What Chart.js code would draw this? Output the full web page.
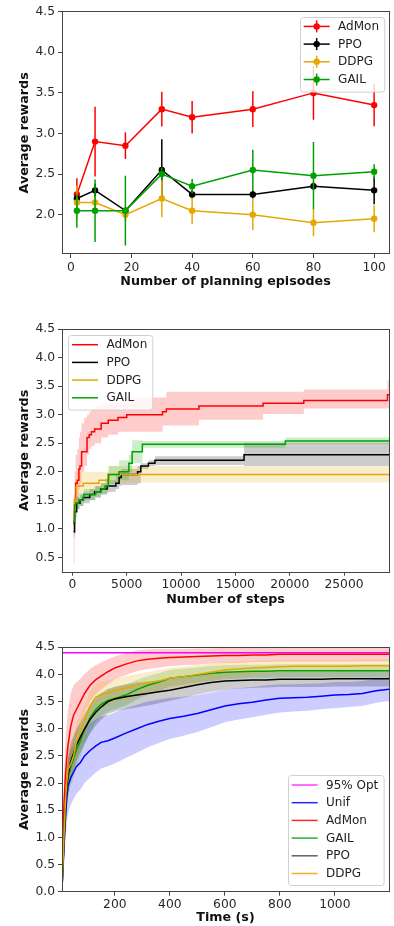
<!DOCTYPE html>
<html>
<head>
<meta charset="utf-8">
<script src="https://cdn.jsdelivr.net/npm/chart.js@4.4.0/dist/chart.umd.min.js"></script>
<style>
  html, body { margin: 0; padding: 0; background: #fff; }
  body { width: 394px; height: 926px; position: relative; overflow: hidden; }
  canvas { position: absolute; left: 0; }
</style>
</head>
<body>
<canvas id="episodes-chart" width="394" height="300" style="top:0"></canvas>
<canvas id="steps-chart" width="394" height="300" style="top:310px"></canvas>
<canvas id="time-chart" width="394" height="306" style="top:620px"></canvas>
<script>
// ─── Data ─────────────────────────────────────────────────────────────────────
const METHODS = ['AdMon', 'PPO', 'DDPG', 'GAIL'];

// Panel 1: reward vs number of planning episodes (mean ± error)
const EPISODES = [2, 8, 18, 30, 40, 60, 80, 100];
const EP_ADMON = [2.25, 2.9, 2.85, 3.3, 3.2, 3.3, 3.5, 3.35];
const EP_ADMON_ERR = [0.2, 0.43, 0.165, 0.215, 0.2, 0.22, 0.33, 0.26];
const EP_PPO = [2.2, 2.3, 2.05, 2.55, 2.25, 2.25, 2.35, 2.3];
const EP_PPO_ERR = [0.05, 0.08, 0.03, 0.38, 0.05, 0.05, 0.05, 0.17];
const EP_DDPG = [2.15, 2.15, 2.0, 2.2, 2.05, 2.0, 1.9, 1.95];
const EP_DDPG_ERR = [0.21, 0.08, 0.08, 0.23, 0.16, 0.19, 0.165, 0.165];
const EP_GAIL = [2.05, 2.05, 2.05, 2.5, 2.35, 2.55, 2.48, 2.53];
const EP_GAIL_ERR = [0.21, 0.385, 0.43, 0.08, 0.09, 0.25, 0.415, 0.09];
const EP_X_TICKS = [0, 20, 40, 60, 80, 100];
const EP_Y_TICKS = [2.0, 2.5, 3.0, 3.5, 4.0, 4.5];

// Panel 2: best reward so far vs number of steps (step curves, band = lo..hi)
const ST_ADMON_X = [100, 200, 300, 450, 600, 700, 850, 1100, 1350, 1550, 1750, 2050, 2650, 3300, 4200, 5000, 8300, 8650, 11650, 17550, 21300, 29000, 29140];
const ST_ADMON = [1.1, 1.5, 1.8, 1.85, 2.05, 2.1, 2.35, 2.35, 2.6, 2.65, 2.7, 2.75, 2.85, 2.9, 2.95, 3.0, 3.05, 3.1, 3.15, 3.2, 3.25, 3.35, 3.35];
const ST_ADMON_HI = [1.6, 2.0, 2.3, 2.4, 2.6, 2.7, 2.85, 2.95, 3.0, 3.05, 3.1, 3.15, 3.2, 3.2, 3.2, 3.3, 3.3, 3.4, 3.4, 3.4, 3.44, 3.6, 3.6];
const ST_ADMON_LO = [0.4, 0.9, 1.4, 1.5, 1.7, 1.8, 2.0, 2.1, 2.3, 2.4, 2.45, 2.5, 2.6, 2.65, 2.7, 2.7, 2.81, 2.81, 2.91, 3.01, 3.11, 3.11, 3.11];
const ST_PPO_X = [100, 200, 400, 700, 1000, 1600, 2050, 2600, 3200, 4000, 4300, 4500, 6000, 6300, 7000, 7600, 15800, 29140];
const ST_PPO = [0.95, 1.3, 1.45, 1.5, 1.55, 1.6, 1.65, 1.7, 1.75, 1.8, 1.9, 1.95, 2.0, 2.1, 2.15, 2.2, 2.3, 2.3];
const ST_PPO_HI = [1.05, 1.4, 1.55, 1.6, 1.65, 1.7, 1.75, 1.8, 1.85, 1.95, 2.0, 2.05, 2.1, 2.15, 2.2, 2.27, 2.51, 2.51];
const ST_PPO_LO = [0.85, 1.2, 1.35, 1.4, 1.45, 1.5, 1.55, 1.6, 1.65, 1.7, 1.75, 1.77, 1.8, 2.05, 2.1, 2.12, 2.1, 2.1];
const ST_DDPG_X = [100, 200, 350, 1000, 2450, 3400, 29140];
const ST_DDPG = [1.25, 1.5, 1.75, 1.8, 1.85, 1.95, 1.95];
const ST_DDPG_HI = [1.4, 1.7, 2.0, 2.0, 2.0, 2.1, 2.1];
const ST_DDPG_LO = [1.1, 1.3, 1.6, 1.65, 1.7, 1.81, 1.81];
const ST_GAIL_X = [60, 200, 300, 580, 1040, 2150, 2650, 3000, 3300, 4300, 5200, 5500, 6440, 19600, 29140];
const ST_GAIL = [1.12, 1.42, 1.45, 1.5, 1.6, 1.65, 1.7, 1.75, 1.95, 2.0, 2.15, 2.35, 2.48, 2.54, 2.54];
const ST_GAIL_HI = [1.2, 1.55, 1.58, 1.62, 1.7, 1.75, 1.8, 1.88, 2.1, 2.2, 2.3, 2.55, 2.54, 2.6, 2.6];
const ST_GAIL_LO = [1.05, 1.3, 1.35, 1.4, 1.5, 1.55, 1.6, 1.62, 1.78, 1.85, 2.0, 2.15, 2.42, 2.48, 2.48];
const ST_X_TICKS = [0, 5000, 10000, 15000, 20000, 25000];
const ST_Y_TICKS = [0.5, 1.0, 1.5, 2.0, 2.5, 3.0, 3.5, 4.0, 4.5];

// Panel 3: reward vs wall-clock time (mean ± sd)
const TIME = [8, 15, 20, 25, 30, 40, 50, 60, 75, 90, 110, 130, 150, 175, 200, 240, 280, 320, 360, 400, 450, 500, 550, 600, 650, 700, 750, 800, 850, 900, 950, 1000, 1050, 1100, 1150, 1197];
const OPT_95 = 4.4;
const T_UNIF = [0.05, 0.8, 1.3, 1.7, 1.95, 2.1, 2.2, 2.3, 2.38, 2.5, 2.6, 2.68, 2.75, 2.78, 2.83, 2.92, 3.0, 3.08, 3.14, 3.19, 3.23, 3.28, 3.35, 3.42, 3.46, 3.49, 3.53, 3.56, 3.57, 3.58, 3.6, 3.62, 3.63, 3.65, 3.7, 3.73];
const T_UNIF_SD = [0.05, 0.35, 0.4, 0.45, 0.5, 0.5, 0.5, 0.5, 0.5, 0.5, 0.5, 0.49, 0.48, 0.47, 0.47, 0.46, 0.44, 0.42, 0.4, 0.38, 0.36, 0.34, 0.32, 0.3, 0.29, 0.28, 0.27, 0.26, 0.25, 0.25, 0.24, 0.24, 0.23, 0.23, 0.22, 0.22];
const T_ADMON = [0.05, 1.6, 2.1, 2.45, 2.7, 3.05, 3.25, 3.35, 3.5, 3.65, 3.8, 3.9, 3.97, 4.05, 4.12, 4.19, 4.25, 4.28, 4.3, 4.31, 4.32, 4.33, 4.34, 4.35, 4.35, 4.36, 4.36, 4.37, 4.37, 4.37, 4.37, 4.37, 4.37, 4.37, 4.37, 4.37];
const T_ADMON_SD = [0.05, 0.5, 0.6, 0.65, 0.65, 0.6, 0.55, 0.5, 0.42, 0.36, 0.3, 0.27, 0.25, 0.23, 0.21, 0.2, 0.19, 0.18, 0.17, 0.16, 0.15, 0.15, 0.14, 0.14, 0.14, 0.13, 0.13, 0.13, 0.13, 0.13, 0.13, 0.13, 0.13, 0.13, 0.13, 0.13];
const T_GAIL = [0.05, 0.9, 1.5, 1.9, 2.1, 2.3, 2.45, 2.6, 2.78, 2.98, 3.2, 3.35, 3.45, 3.52, 3.56, 3.62, 3.72, 3.8, 3.86, 3.93, 3.96, 3.99, 4.02, 4.04, 4.05, 4.06, 4.06, 4.07, 4.07, 4.07, 4.07, 4.07, 4.07, 4.07, 4.07, 4.07];
const T_GAIL_SD = [0.05, 0.3, 0.35, 0.35, 0.35, 0.35, 0.35, 0.33, 0.3, 0.28, 0.26, 0.24, 0.22, 0.21, 0.2, 0.19, 0.18, 0.17, 0.16, 0.15, 0.15, 0.14, 0.14, 0.13, 0.13, 0.12, 0.12, 0.12, 0.12, 0.12, 0.12, 0.12, 0.12, 0.12, 0.12, 0.12];
const T_PPO = [0.05, 0.9, 1.5, 1.9, 2.15, 2.4, 2.55, 2.7, 2.85, 3.0, 3.17, 3.3, 3.4, 3.5, 3.55, 3.59, 3.62, 3.65, 3.68, 3.71, 3.76, 3.81, 3.85, 3.88, 3.89, 3.9, 3.9, 3.91, 3.91, 3.91, 3.91, 3.92, 3.92, 3.92, 3.92, 3.92];
const T_PPO_SD = [0.05, 0.3, 0.35, 0.35, 0.35, 0.35, 0.33, 0.3, 0.28, 0.27, 0.26, 0.25, 0.24, 0.23, 0.23, 0.23, 0.23, 0.22, 0.21, 0.2, 0.19, 0.18, 0.17, 0.16, 0.15, 0.15, 0.14, 0.14, 0.14, 0.14, 0.14, 0.14, 0.14, 0.14, 0.14, 0.14];
const T_DDPG = [0.05, 1.0, 1.6, 2.0, 2.25, 2.35, 2.5, 2.75, 2.95, 3.15, 3.42, 3.58, 3.63, 3.66, 3.7, 3.75, 3.8, 3.84, 3.88, 3.93, 3.96, 4.0, 4.04, 4.08, 4.1, 4.12, 4.13, 4.14, 4.15, 4.15, 4.15, 4.15, 4.15, 4.16, 4.16, 4.16];
const T_DDPG_SD = [0.05, 0.3, 0.35, 0.35, 0.35, 0.35, 0.35, 0.35, 0.33, 0.3, 0.27, 0.25, 0.24, 0.23, 0.22, 0.22, 0.21, 0.2, 0.2, 0.19, 0.18, 0.17, 0.16, 0.15, 0.14, 0.13, 0.13, 0.12, 0.12, 0.12, 0.12, 0.12, 0.12, 0.12, 0.12, 0.12];
const T_X_TICKS = [200, 400, 600, 800, 1000];
const T_Y_TICKS = [0.0, 0.5, 1.0, 1.5, 2.0, 2.5, 3.0, 3.5, 4.0, 4.5];

// ─── Styling ──────────────────────────────────────────────────────────────────
const FONT = '"DejaVu Sans", sans-serif';
const COLORS = {
  AdMon: '#ff0000', PPO: '#000000', DDPG: '#e6a700', GAIL: '#00a000',
  Unif: '#0000ff', Opt: '#ff00ff',
};
const BANDS = {
  AdMon: 'rgba(255, 0, 0, 0.2)', PPO: 'rgba(0, 0, 0, 0.2)', DDPG: 'rgba(230, 167, 0, 0.2)',
  GAIL: 'rgba(0, 160, 0, 0.2)', Unif: 'rgba(0, 0, 255, 0.2)',
};

Chart.defaults.font.family = FONT;
Chart.defaults.animation = false;

const pts = (xs, ys) => xs.map((x, i) => ({ x, y: ys[i] }));
const errorSegments = (xs, ys, err) =>
  xs.flatMap((x, i) => [{ x, y: ys[i] - err[i] }, { x, y: ys[i] + err[i] }, { x, y: null }]);
const offset = (ys, sd, sign) => ys.map((y, i) => y + sign * sd[i]);

// Matplotlib-like axes frame
const frame = {
  id: 'frame',
  afterDatasetsDraw(chart) {
    const { ctx, chartArea: a } = chart;
    ctx.save();
    ctx.strokeStyle = '#444';
    ctx.lineWidth = 1;
    ctx.strokeRect(Math.floor(a.left) + 0.5, Math.floor(a.top) + 0.5,
      Math.round(a.width), Math.round(a.height));
    ctx.restore();
  },
};

// Boxed legend placed in a corner of the axes
const boxLegend = {
  id: 'boxLegend',
  afterDraw(chart, args, opts) {
    const { ctx, chartArea: a } = chart;
    const rowH = 17.7;
    ctx.save();
    ctx.font = '12px ' + FONT;
    const textW = Math.max(...opts.items.map(it => ctx.measureText(it.label).width));
    const w = 38.4 + textW + 5;
    const h = opts.items.length * rowH + 3.8;
    const x = opts.corner.includes('right') ? a.right - opts.dx - w : a.left + opts.dx;
    const y = opts.corner.includes('bottom') ? a.bottom - opts.dy - h : a.top + opts.dy;

    ctx.fillStyle = 'rgba(255, 255, 255, 0.8)';
    ctx.strokeStyle = '#d0d0d0';
    ctx.lineWidth = 1;
    ctx.beginPath();
    if (ctx.roundRect) ctx.roundRect(Math.round(x) + 0.5, Math.round(y) + 0.5, w, h, 3);
    else ctx.rect(Math.round(x) + 0.5, Math.round(y) + 0.5, w, h);
    ctx.fill();
    ctx.stroke();

    opts.items.forEach((it, i) => {
      const cy = y + 9.7 + i * rowH;
      ctx.strokeStyle = it.color;
      ctx.lineWidth = 1.5;
      ctx.globalAlpha = it.alpha || 1;
      ctx.beginPath();
      ctx.moveTo(x + 4, cy);
      ctx.lineTo(x + 30, cy);
      ctx.stroke();
      if (it.marker) {
        ctx.beginPath();
        ctx.moveTo(x + 17, cy - 6);
        ctx.lineTo(x + 17, cy + 6);
        ctx.stroke();
        ctx.fillStyle = it.color;
        ctx.beginPath();
        ctx.arc(x + 17, cy, 3.2, 0, Math.PI * 2);
        ctx.fill();
      }
      ctx.globalAlpha = 1;
      ctx.fillStyle = '#222';
      ctx.textBaseline = 'middle';
      ctx.textAlign = 'left';
      ctx.fillText(it.label, x + 38.4, cy + 0.5);
    });
    ctx.restore();
  },
};

function xScale(min, max, ticks, title, height, titlePad) {
  return {
    type: 'linear', min, max,
    afterBuildTicks: (s) => { s.ticks = ticks.map(v => ({ value: v })); },
    afterFit: (s) => { s.height = height; },
    grid: { drawOnChartArea: false, tickLength: 4, color: '#444' },
    border: { display: false },
    ticks: {
      color: '#262626', font: { family: FONT, size: 12.3 }, padding: 2,
      maxRotation: 0, autoSkip: false, callback: (v) => String(v),
    },
    title: {
      display: true, text: title, color: '#111',
      font: { family: FONT, size: 12.7, weight: 'bold' },
      padding: { top: 0, bottom: titlePad },
    },
  };
}

function yScale(min, max, ticks) {
  return {
    type: 'linear', min, max,
    afterBuildTicks: (s) => { s.ticks = ticks.map(v => ({ value: v })); },
    afterFit: (s) => { s.width = 62; },
    grid: { drawOnChartArea: false, tickLength: 4, color: '#444' },
    border: { display: false },
    ticks: {
      color: '#262626', font: { family: FONT, size: 12.3 }, padding: 3,
      autoSkip: false, callback: (v) => v.toFixed(1),
    },
    title: {
      display: true, text: 'Average rewards', color: '#111',
      font: { family: FONT, size: 12.7, weight: 'bold' },
      padding: { top: 17, bottom: 0 },
    },
  };
}

function makeChart(id, topPad, scales, datasets, legend) {
  const ctx = document.getElementById(id).getContext('2d');
  return new Chart(ctx, {
    type: 'line',
    data: { datasets },
    options: {
      responsive: false,
      devicePixelRatio: 1,
      events: [],
      layout: { padding: { top: topPad, right: 5, left: 0, bottom: 0 } },
      elements: { line: { tension: 0 }, point: { radius: 0 } },
      plugins: { legend: { display: false }, tooltip: { enabled: false }, boxLegend: legend },
      scales,
    },
    plugins: [frame, boxLegend],
  });
}

// ─── Panel 1 ──────────────────────────────────────────────────────────────────
const epSeries = [
  [EP_ADMON, EP_ADMON_ERR], [EP_PPO, EP_PPO_ERR], [EP_DDPG, EP_DDPG_ERR], [EP_GAIL, EP_GAIL_ERR],
];
const epDatasets = [];
epSeries.forEach(([mean, err], k) => {
  const c = COLORS[METHODS[k]];
  epDatasets.push({
    data: errorSegments(EPISODES, mean, err),
    borderColor: c, borderWidth: 1.5, spanGaps: false, order: 10 - k,
  });
  epDatasets.push({
    label: METHODS[k],
    data: pts(EPISODES, mean),
    borderColor: c, borderWidth: 1.5, order: 10 - k,
    pointRadius: 3.2, pointBackgroundColor: c, pointBorderColor: c, pointBorderWidth: 0,
  });
});
makeChart('episodes-chart', 11.7, {
  x: xScale(-2.9, 104.9, EP_X_TICKS, 'Number of planning episodes', 46, 10.4),
  y: yScale(1.516, 4.5, EP_Y_TICKS),
}, epDatasets, {
  corner: 'topright', dx: 5, dy: 5,
  items: METHODS.map(m => ({ label: m, color: COLORS[m], marker: true })),
});

// ─── Panel 2 ──────────────────────────────────────────────────────────────────
const stSeries = [
  [ST_ADMON_X, ST_ADMON, ST_ADMON_LO, ST_ADMON_HI],
  [ST_PPO_X, ST_PPO, ST_PPO_LO, ST_PPO_HI],
  [ST_DDPG_X, ST_DDPG, ST_DDPG_LO, ST_DDPG_HI],
  [ST_GAIL_X, ST_GAIL, ST_GAIL_LO, ST_GAIL_HI],
];
const stDatasets = [];
stSeries.forEach(([xs, ys, lo, hi], k) => {
  const m = METHODS[k];
  stDatasets.push({ data: pts(xs, lo), borderWidth: 0, stepped: 'before', order: 40 - k });
  stDatasets.push({
    data: pts(xs, hi), borderWidth: 0, stepped: 'before', order: 40 - k,
    fill: '-1', backgroundColor: BANDS[m],
  });
  stDatasets.push({
    label: m, data: pts(xs, ys), borderColor: COLORS[m], borderWidth: 1.5,
    stepped: 'before', order: 10 - k,
  });
});
makeChart('steps-chart', 19, {
  x: xScale(-955, 29140, ST_X_TICKS, 'Number of steps', 38.3, 3.1),
  y: yScale(0.25, 4.5, ST_Y_TICKS),
}, stDatasets, {
  corner: 'topleft', dx: 6, dy: 6,
  items: METHODS.map(m => ({ label: m, color: COLORS[m] })),
});

// ─── Panel 3 ──────────────────────────────────────────────────────────────────
const T_NAMES = ['Unif', 'AdMon', 'GAIL', 'PPO', 'DDPG'];
const tSeries = [
  [T_UNIF, T_UNIF_SD], [T_ADMON, T_ADMON_SD], [T_GAIL, T_GAIL_SD], [T_PPO, T_PPO_SD], [T_DDPG, T_DDPG_SD],
];
const tDatasets = [{
  label: '95% Opt',
  data: pts([TIME[0], TIME[TIME.length - 1]], [OPT_95, OPT_95]),
  borderColor: COLORS.Opt, borderWidth: 1.5, order: 20,
}];
tSeries.forEach(([ys, sd], k) => {
  const m = T_NAMES[k];
  tDatasets.push({ data: pts(TIME, offset(ys, sd, -1)), borderWidth: 0, order: 50 - k });
  tDatasets.push({
    data: pts(TIME, offset(ys, sd, 1)), borderWidth: 0, order: 50 - k,
    fill: '-1', backgroundColor: BANDS[m],
  });
  tDatasets.push({ label: m, data: pts(TIME, ys), borderColor: COLORS[m], borderWidth: 1.5, order: 10 - k });
});
makeChart('time-chart', 27.3, {
  x: xScale(8, 1197, T_X_TICKS, 'Time (s)', 34.3, 0.2),
  y: yScale(0, 4.5, T_Y_TICKS),
}, tDatasets, {
  corner: 'bottomright', dx: 5.7, dy: 6.4,
  items: [
    { label: '95% Opt', color: COLORS.Opt, alpha: 0.75 },
    ...T_NAMES.map(m => ({ label: m, color: m === 'PPO' ? '#444' : COLORS[m], alpha: 0.85 })),
  ],
});
</script>
</body>
</html>
